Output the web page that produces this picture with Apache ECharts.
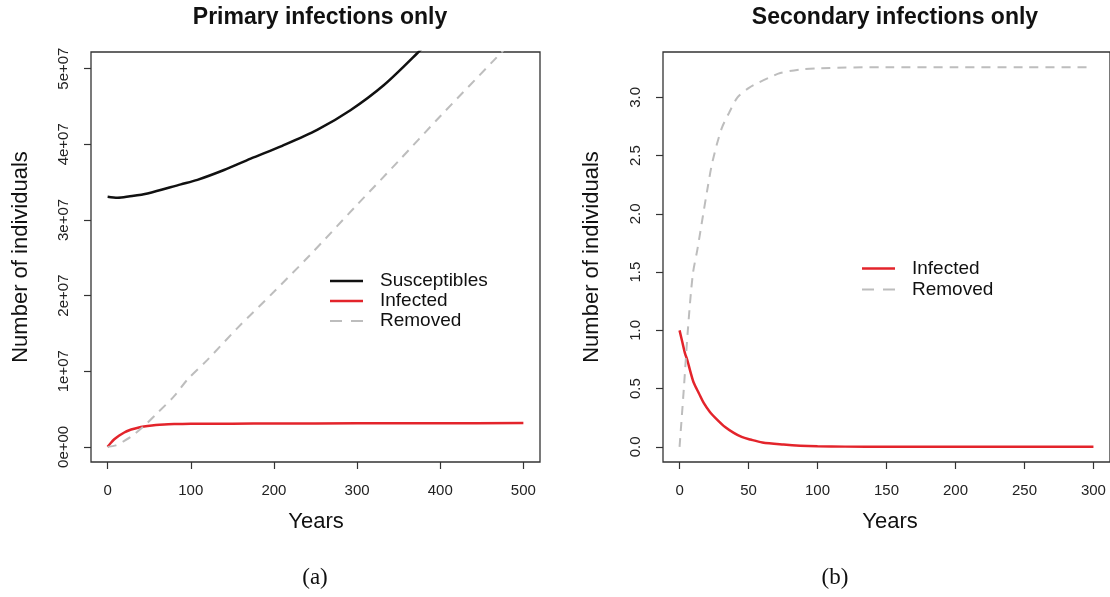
<!DOCTYPE html>
<html>
<head>
<meta charset="utf-8">
<script src="https://cdn.jsdelivr.net/npm/echarts@6/dist/echarts.min.js"></script>
<style>
  html, body { margin: 0; padding: 0; background: #fff; }
  #chart { width: 1110px; height: 597px; }
</style>
</head>
<body>
<div id="chart"></div>
<script>
// panel (a): primary infections only
const susYears = [0, 12, 25, 48, 88, 108, 140, 172, 210, 252, 292, 332, 372, 400]
const susValues = [3.307e7, 3.294e7, 3.31e7, 3.35e7, 3.47e7, 3.53e7, 3.66e7, 3.81e7, 3.98e7, 4.19e7, 4.45e7, 4.78e7, 5.20e7, 5.52e7]

const infAYears = [0, 4, 8, 14, 20, 26, 32, 40, 48, 58, 68, 80, 100, 150, 200, 300, 400, 500]
const infAValues = [0, 0.55e6, 1.0e6, 1.5e6, 1.9e6, 2.2e6, 2.4e6, 2.62e6, 2.77e6, 2.9e6, 2.97e6, 3.01e6, 3.05e6, 3.07e6, 3.09e6, 3.11e6, 3.13e6, 3.15e6]

const remAYears = [0, 10, 20, 30, 44, 60, 80, 96, 120, 156, 200, 242, 300, 350, 400, 468, 500]
const remAValues = [0, 0.02e7, 0.08e7, 0.15e7, 0.277e7, 0.45e7, 0.67e7, 0.89e7, 1.15e7, 1.57e7, 2.05e7, 2.52e7, 3.2e7, 3.78e7, 4.37e7, 5.15e7, 5.52e7]

// panel (b): secondary infections only
const infBYears = [0, 2, 4, 5.5, 8, 10.3, 14, 17.5, 22, 27.2, 33, 39.3, 45, 51.3, 60, 75.4, 87.5, 100, 120, 150, 200, 250, 300]
const infBValues = [1.0, 0.9, 0.8, 0.75, 0.64, 0.55, 0.46, 0.377, 0.30, 0.234, 0.17, 0.12, 0.085, 0.063, 0.038, 0.02, 0.01, 0.005, 0.002, 0, 0, 0, 0]

const remBYears = [0, 3.1, 6, 9.6, 13, 16.9, 20, 23.9, 30.4, 36, 42, 50, 56, 65, 73, 87.5, 100, 150, 200, 250, 300]
const remBValues = [0, 0.5, 1.0, 1.48, 1.70, 1.98, 2.2, 2.45, 2.73, 2.87, 3.0, 3.08, 3.12, 3.17, 3.21, 3.24, 3.25, 3.26, 3.26, 3.26, 3.26]

const xTicksA = [0, 100, 200, 300, 400, 500]
const yTicksA = [0, 1e7, 2e7, 3e7, 4e7, 5e7]
const xTicksB = [0, 50, 100, 150, 200, 250, 300]
const yTicksB = [0, 0.5, 1.0, 1.5, 2.0, 2.5, 3.0]

const FONT = '"Liberation Sans", Arial, sans-serif'
const BLACK = '#111111'
const RED = '#e3242b'
const GREY = '#bdbdbd'

// legend samples: a plain bar, and two short dashes for "Removed"
const SOLID_ICON = 'rect'
const DASH_ICON = 'path://M0,0H12V2H0ZM21,0H33V2H21Z'

const pairs = (xs, ys) => xs.map((x, i) => [x, ys[i]])

const sciLabel = (v) => v === 0 ? '0e+00' : Math.round(v / 1e7) + 'e+07'

const makeX = (gridIndex, min, max, ticks) => ({
  type: 'value',
  gridIndex: gridIndex,
  min: min,
  max: max,
  axisLine: { show: false, onZero: false },
  splitLine: { show: false },
  axisTick: { show: true, length: 7, customValues: ticks, lineStyle: { color: '#333', width: 1.2 } },
  axisLabel: { customValues: ticks, margin: 21, fontFamily: FONT, fontSize: 15, color: '#222' }
})

const makeY = (gridIndex, min, max, ticks, fmt) => ({
  type: 'value',
  gridIndex: gridIndex,
  min: min,
  max: max,
  axisLine: { show: false, onZero: false },
  splitLine: { show: false },
  axisTick: { show: true, length: 7, customValues: ticks, lineStyle: { color: '#333', width: 1.2 } },
  axisLabel: { customValues: ticks, rotate: 90, margin: 20, formatter: fmt, fontFamily: FONT, fontSize: 15, color: '#222' }
})

const label = (text, x, y, size, opts) => Object.assign({
  type: 'text',
  x: x,
  y: y,
  style: {
    text: text,
    font: (opts && opts.bold ? 'bold ' : '') + size + 'px ' + (opts && opts.font ? opts.font : FONT),
    fill: '#111',
    textAlign: 'center',
    textVerticalAlign: 'middle'
  }
}, opts && opts.rotation ? { rotation: opts.rotation } : {})

const lineSeries = (name, axis, xs, ys, color, width, dashed) => ({
  name: name,
  type: 'line',
  xAxisIndex: axis,
  yAxisIndex: axis,
  data: pairs(xs, ys),
  symbol: 'none',
  smooth: 0.3,
  clip: true,
  lineStyle: { color: color, width: width, type: dashed ? [9, 7] : 'solid' },
  itemStyle: { color: color }
})

const makeLegend = (items, left, top, rowHeight) => ({
  data: items,
  orient: 'vertical',
  left: left,
  top: top,
  padding: 0,
  itemWidth: 33,
  itemHeight: 2.5,
  itemGap: 0,
  textStyle: { fontFamily: FONT, fontSize: 19, lineHeight: rowHeight, color: '#111', padding: [0, 0, 0, 12] }
})

const chart = echarts.init(document.getElementById('chart'), null, { renderer: 'canvas' })

const option = {
  animation: false,
  backgroundColor: '#fff',
  grid: [
    { left: 91, top: 52, width: 449, height: 410, show: true, borderColor: '#333', borderWidth: 1.3, backgroundColor: 'transparent' },
    { left: 663, top: 52, width: 448, height: 410, show: true, borderColor: '#333', borderWidth: 1.3, backgroundColor: 'transparent' }
  ],
  xAxis: [
    makeX(0, -20, 520, xTicksA),
    makeX(1, -12, 312, xTicksB)
  ],
  yAxis: [
    makeY(0, -2.0e6, 5.22e7, yTicksA, sciLabel),
    makeY(1, -0.13, 3.39, yTicksB, (v) => v.toFixed(1))
  ],
  legend: [
    makeLegend([
      { name: 'Susceptibles', icon: SOLID_ICON },
      { name: 'Infected', icon: SOLID_ICON },
      { name: 'Removed', icon: DASH_ICON }
    ], 330, 271, 20),
    makeLegend([
      { name: 'Infected ', icon: SOLID_ICON },
      { name: 'Removed ', icon: DASH_ICON }
    ], 862, 258, 21)
  ],
  series: [
    lineSeries('Susceptibles', 0, susYears, susValues, BLACK, 2.5, false),
    lineSeries('Infected', 0, infAYears, infAValues, RED, 2.5, false),
    lineSeries('Removed', 0, remAYears, remAValues, GREY, 2, true),
    lineSeries('Infected ', 1, infBYears, infBValues, RED, 2.5, false),
    lineSeries('Removed ', 1, remBYears, remBValues, GREY, 2, true)
  ],
  graphic: [
    label('Primary infections only', 320, 18, 23, { bold: true }),
    label('Secondary infections only', 895, 18, 23, { bold: true }),
    label('Years', 316, 522, 22),
    label('Years', 890, 522, 22),
    label('Number of individuals', 21, 257, 22, { rotation: Math.PI / 2 }),
    label('Number of individuals', 592, 257, 22, { rotation: Math.PI / 2 }),
    label('(a)', 315, 578, 23, { font: '"Liberation Serif", "DejaVu Serif", serif' }),
    label('(b)', 835, 578, 23, { font: '"Liberation Serif", "DejaVu Serif", serif' })
  ]
}

chart.setOption(option)
</script>
</body>
</html>
